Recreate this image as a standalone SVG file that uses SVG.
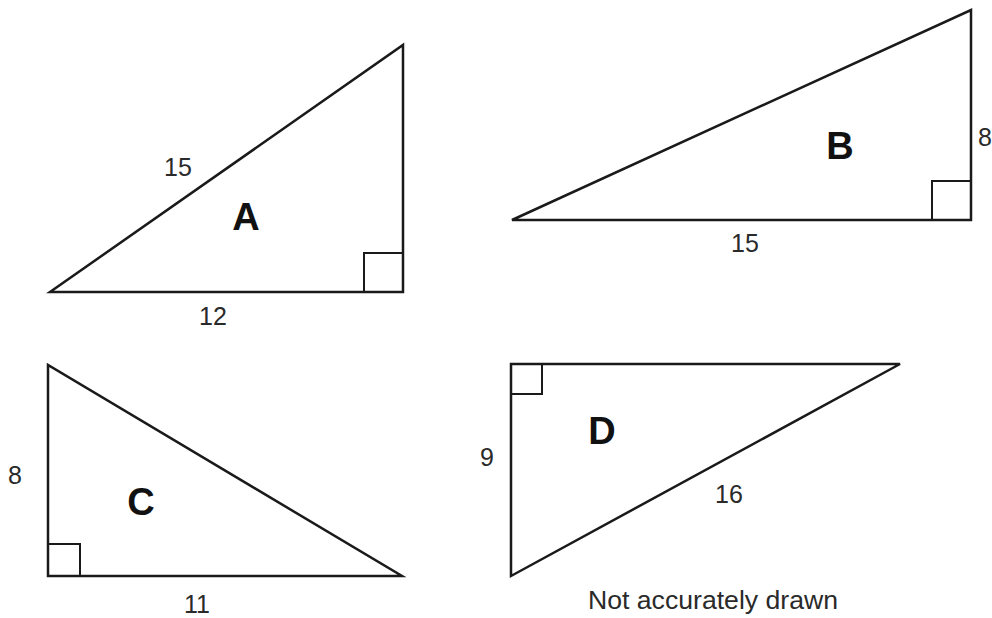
<svg xmlns="http://www.w3.org/2000/svg" width="992" height="618" viewBox="0 0 992 618">
<style>
.tri{fill:none;stroke:#1a1a1a;stroke-width:2.5;stroke-linejoin:miter}
.sq{fill:none;stroke:#1a1a1a;stroke-width:2}
.num{font-family:"Liberation Sans",Arial,sans-serif;font-size:25px;fill:#2a2a2a;text-anchor:middle}
.lbl{font-family:"Liberation Sans",Arial,sans-serif;font-size:38px;font-weight:bold;fill:#111;text-anchor:middle}
</style>
<rect width="992" height="618" fill="#fff"/>
<g id="triangle-A">
<polygon class="tri" points="50,292 403,292 403,45"/>
<polyline class="sq" points="364,292 364,253 403,253"/>
<text class="num" x="178" y="176">15</text>
<text class="num" x="213" y="325">12</text>
<text class="lbl" x="246" y="230">A</text>
</g>
<g id="triangle-B">
<polygon class="tri" points="512,220 971,220 971,10"/>
<polyline class="sq" points="932,220 932,181 971,181"/>
<text class="lbl" x="840" y="159">B</text>
<text class="num" x="985" y="146">8</text>
<text class="num" x="745" y="252">15</text>
</g>
<g id="triangle-C">
<polygon class="tri" points="48,365 48,576 402,576"/>
<polyline class="sq" points="48,544 80,544 80,576"/>
<text class="num" x="15" y="484">8</text>
<text class="lbl" x="141" y="515">C</text>
<text class="num" x="197" y="613">11</text>
</g>
<g id="triangle-D">
<polygon class="tri" points="511,364 900,364 511,576"/>
<polyline class="sq" points="511,394 542,394 542,364"/>
<text class="num" x="487" y="466">9</text>
<text class="lbl" x="602" y="444">D</text>
<text class="num" x="729" y="503">16</text>
<text class="num" x="713" y="609" textLength="250" lengthAdjust="spacingAndGlyphs">Not accurately drawn</text>
</g>
<g id="connectors"/>
</svg>
